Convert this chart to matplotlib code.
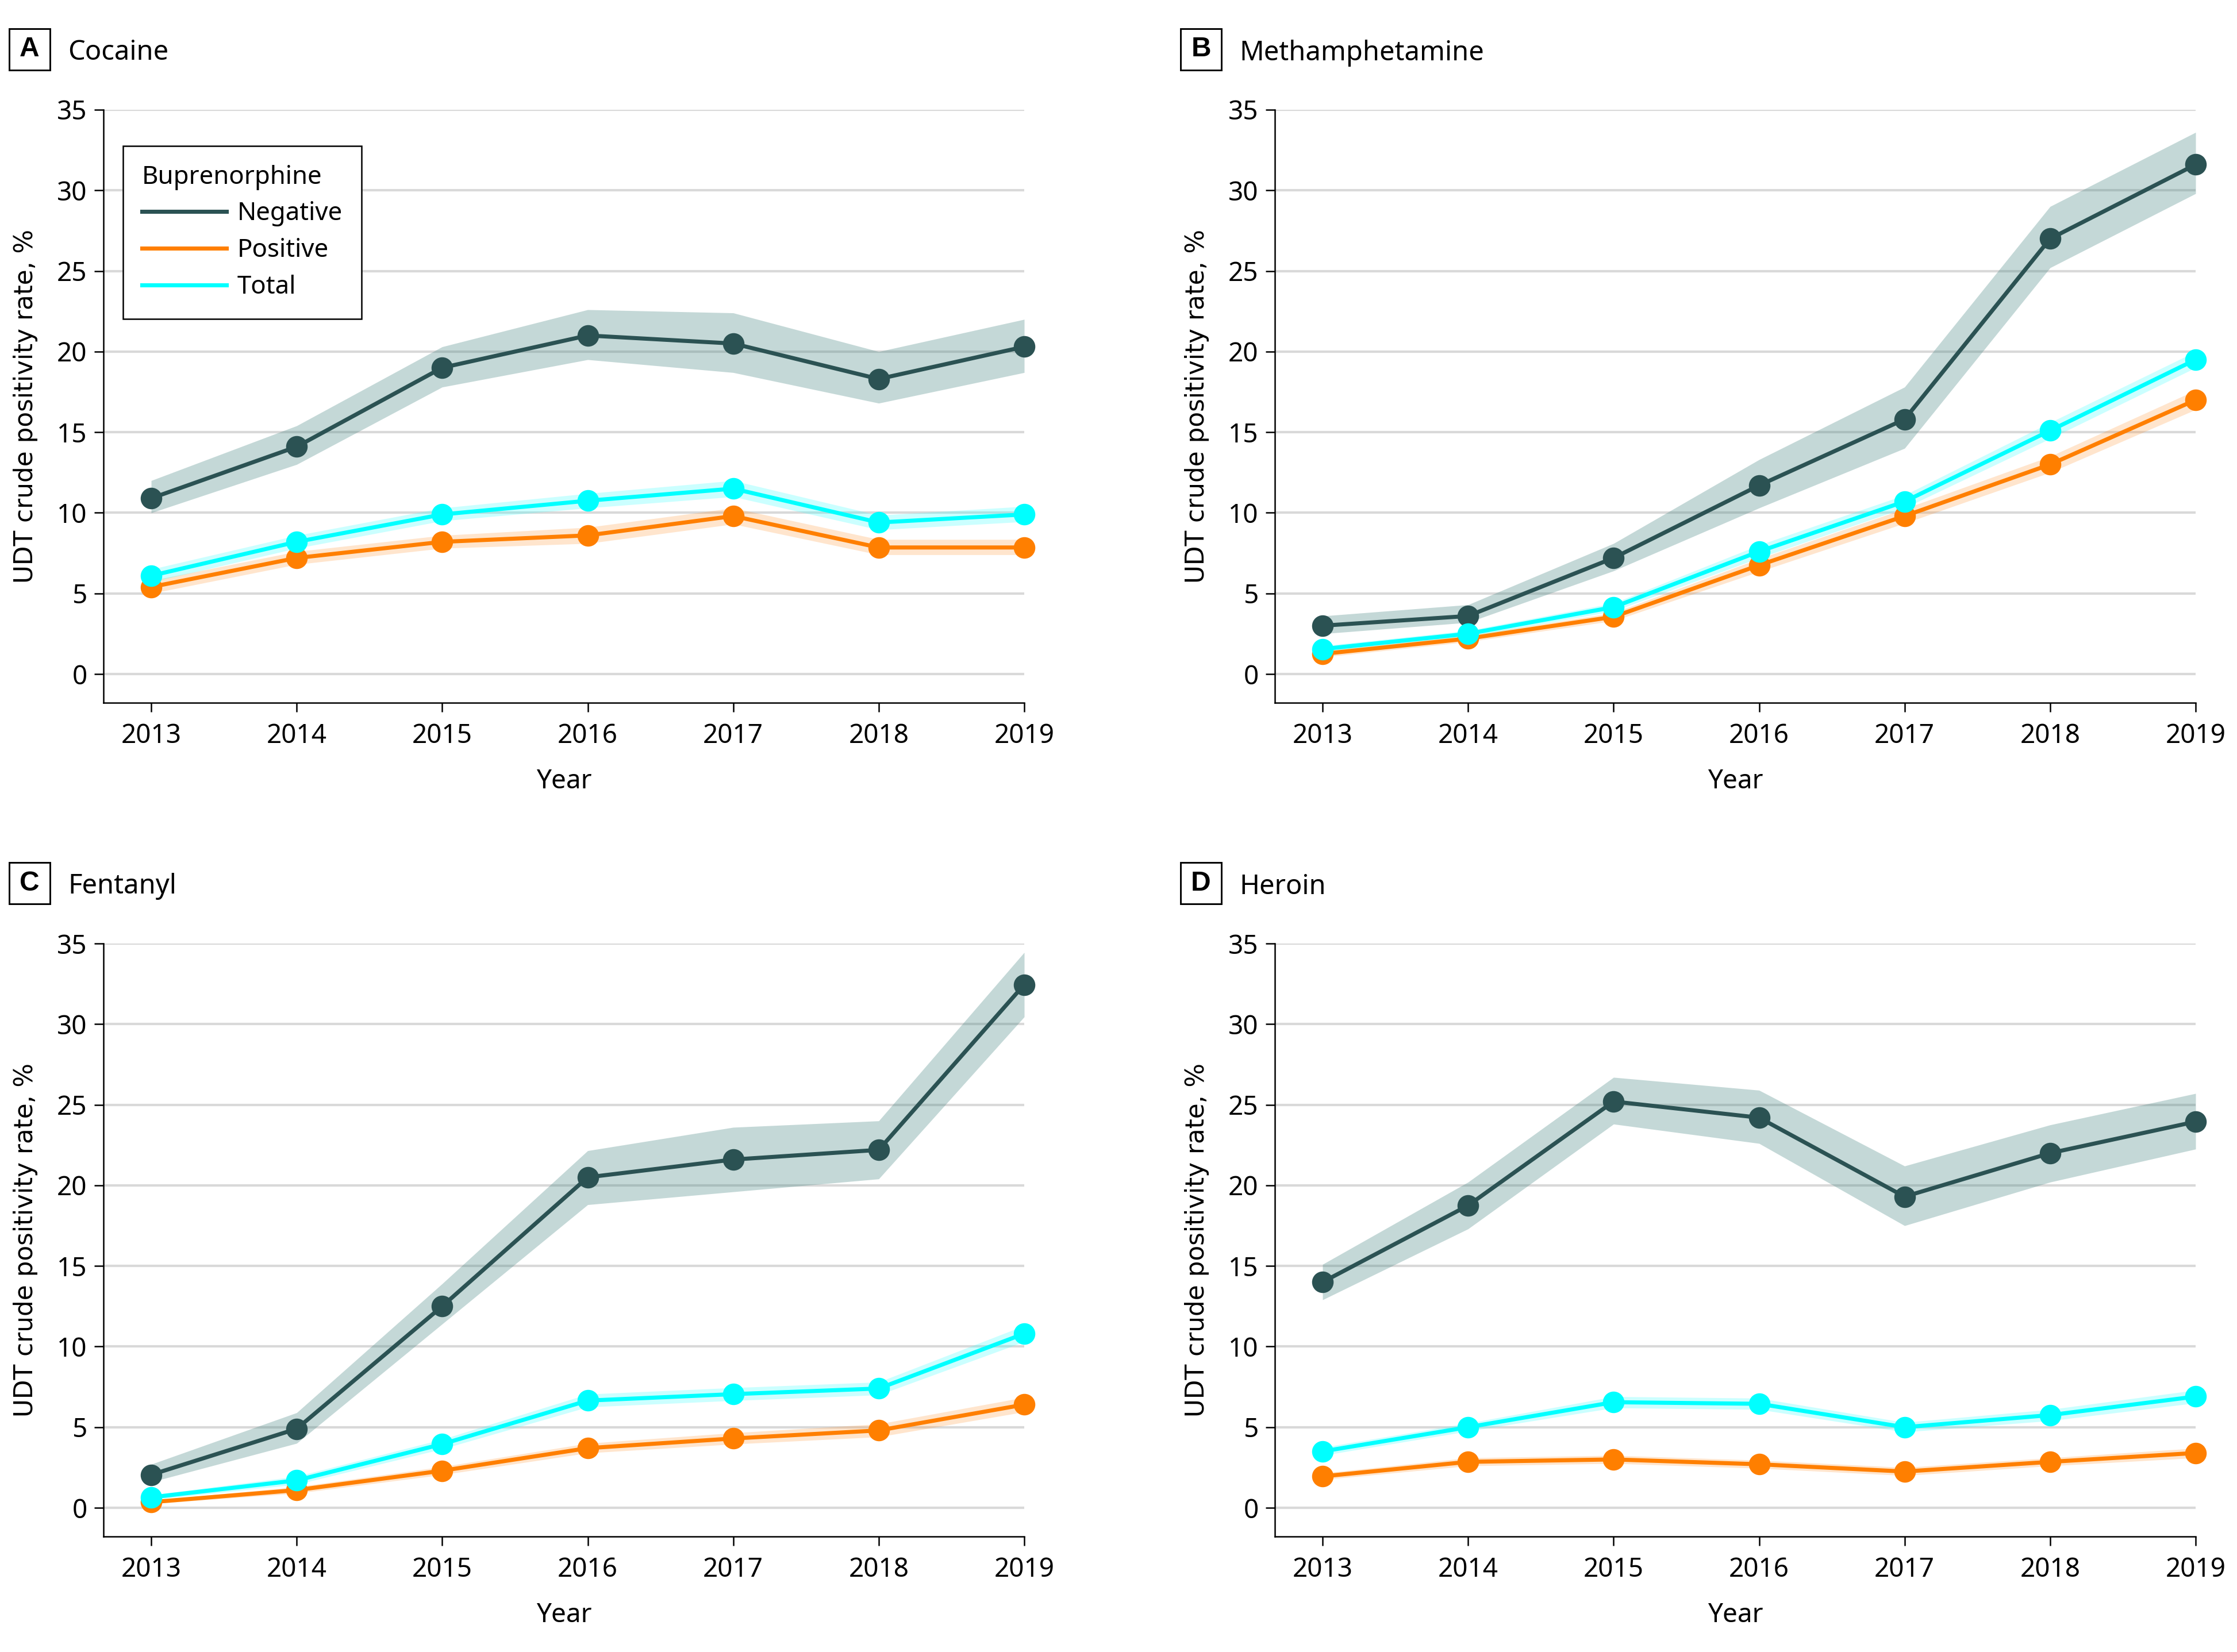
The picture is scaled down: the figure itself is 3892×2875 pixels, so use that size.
import matplotlib
matplotlib.use("Agg")
import matplotlib.pyplot as plt
from matplotlib.patches import Rectangle
from matplotlib.lines import Line2D

plt.rcParams['font.family'] = ['Noto Sans', 'DejaVu Sans']

years = [2013, 2014, 2015, 2016, 2017, 2018, 2019]

# Cocaine
coc_neg    = [10.9, 14.1, 19.0, 21.0, 20.5, 18.3, 20.3]
coc_neg_lo = [10.0, 13.0, 17.8, 19.5, 18.7, 16.8, 18.7]
coc_neg_hi = [12.0, 15.4, 20.3, 22.6, 22.4, 20.0, 22.0]
coc_pos    = [5.4, 7.2, 8.2, 8.6, 9.8, 7.85, 7.85]
coc_pos_lo = [5.0, 6.8, 7.8, 8.1, 9.3, 7.4, 7.4]
coc_pos_hi = [5.8, 7.6, 8.6, 9.1, 10.3, 8.35, 8.35]
coc_tot    = [6.1, 8.2, 9.9, 10.75, 11.5, 9.4, 9.9]
coc_tot_lo = [5.7, 7.8, 9.5, 10.3, 11.0, 8.95, 9.45]
coc_tot_hi = [6.5, 8.6, 10.3, 11.2, 12.0, 9.85, 10.4]

# Methamphetamine
met_neg    = [3.0, 3.6, 7.2, 11.7, 15.8, 27.0, 31.6]
met_neg_lo = [2.5, 3.2, 6.4, 10.3, 14.0, 25.2, 29.8]
met_neg_hi = [3.6, 4.3, 8.1, 13.3, 17.8, 29.0, 33.6]
met_pos    = [1.25, 2.2, 3.55, 6.75, 9.8, 13.0, 17.0]
met_pos_lo = [1.05, 2.0, 3.3, 6.35, 9.35, 12.5, 16.4]
met_pos_hi = [1.45, 2.4, 3.8, 7.15, 10.25, 13.5, 17.6]
met_tot    = [1.55, 2.5, 4.15, 7.6, 10.7, 15.1, 19.5]
met_tot_lo = [1.35, 2.3, 3.9, 7.2, 10.3, 14.6, 19.0]
met_tot_hi = [1.75, 2.7, 4.4, 8.0, 11.1, 15.6, 20.0]

# Fentanyl
fen_neg    = [2.05, 4.9, 12.5, 20.5, 21.6, 22.2, 32.45]
fen_neg_lo = [1.6, 4.0, 11.4, 18.8, 19.6, 20.4, 30.45]
fen_neg_hi = [2.7, 5.9, 13.9, 22.15, 23.6, 24.0, 34.45]
fen_pos    = [0.35, 1.1, 2.3, 3.7, 4.3, 4.8, 6.4]
fen_pos_lo = [0.25, 0.9, 2.05, 3.4, 3.95, 4.4, 5.95]
fen_pos_hi = [0.45, 1.3, 2.55, 4.0, 4.65, 5.2, 6.85]
fen_tot    = [0.65, 1.7, 3.95, 6.65, 7.05, 7.4, 10.8]
fen_tot_lo = [0.5, 1.45, 3.65, 6.25, 6.65, 7.0, 10.3]
fen_tot_hi = [0.8, 1.95, 4.25, 7.05, 7.45, 7.8, 11.3]

# Heroin
her_neg    = [14.0, 18.75, 25.2, 24.2, 19.3, 22.0, 23.95]
her_neg_lo = [12.9, 17.3, 23.8, 22.6, 17.5, 20.2, 22.25]
her_neg_hi = [15.1, 20.2, 26.7, 25.9, 21.2, 23.75, 25.7]
her_pos    = [1.95, 2.85, 3.0, 2.7, 2.25, 2.85, 3.4]
her_pos_lo = [1.75, 2.6, 2.75, 2.45, 2.0, 2.6, 3.1]
her_pos_hi = [2.15, 3.1, 3.25, 2.95, 2.5, 3.1, 3.7]
her_tot    = [3.5, 5.0, 6.55, 6.45, 5.0, 5.75, 6.9]
her_tot_lo = [3.25, 4.75, 6.2, 6.1, 4.7, 5.4, 6.5]
her_tot_hi = [3.75, 5.25, 6.9, 6.8, 5.3, 6.1, 7.3]

letters = ["A", "B", "C", "D"]
titles = ["Cocaine", "Methamphetamine", "Fentanyl", "Heroin"]
series_names = ["Negative", "Positive", "Total"]

panels = [
    [(coc_neg, coc_neg_lo, coc_neg_hi), (coc_pos, coc_pos_lo, coc_pos_hi), (coc_tot, coc_tot_lo, coc_tot_hi)],
    [(met_neg, met_neg_lo, met_neg_hi), (met_pos, met_pos_lo, met_pos_hi), (met_tot, met_tot_lo, met_tot_hi)],
    [(fen_neg, fen_neg_lo, fen_neg_hi), (fen_pos, fen_pos_lo, fen_pos_hi), (fen_tot, fen_tot_lo, fen_tot_hi)],
    [(her_neg, her_neg_lo, her_neg_hi), (her_pos, her_pos_lo, her_pos_hi), (her_tot, her_tot_lo, her_tot_hi)],
]

line_colors = ["#2B5253", "#FF7F00", "#00FFFF"]
band_colors = ["#3E807D", "#FF8A1F", "#33FFFF"]
band_alpha = [0.3, 0.22, 0.25]

W, H = 3892, 2875
fig = plt.figure(figsize=(W / 300, H / 300), dpi=300)

# axes boxes in pixels: left spine x, y of the 35 line
ax_w, ax_h = 1602, 1032
corners = [(180, 191), (2218, 191), (180, 1642), (2218, 1642)]

axes = []
for i, (x, y) in enumerate(corners):
    ax = fig.add_axes([x / W, 1 - (y + ax_h) / H, ax_w / W, ax_h / H])
    axes.append(ax)

    for j, (vals, lo, hi) in enumerate(panels[i]):
        ax.fill_between(years, lo, hi, color=band_colors[j], alpha=band_alpha[j], lw=0, zorder=1)
    for j, (vals, lo, hi) in enumerate(panels[i]):
        ax.plot(years, vals, color=line_colors[j], lw=1.7, marker="o", ms=8,
                clip_on=False, zorder=3 + j)

    ax.set_xlim(2012.672, 2019)
    ax.set_ylim(-1.78, 35)
    ax.set_xticks(years)
    ax.set_yticks(range(0, 36, 5))
    ax.yaxis.grid(True, color="#D9D9D9", lw=1.0)
    ax.set_axisbelow(True)
    for s in ["top", "right"]:
        ax.spines[s].set_visible(False)
    for s in ["left", "bottom"]:
        ax.spines[s].set_linewidth(0.6)
    ax.tick_params(length=3.8, width=0.6, labelsize=11, pad=3)
    ax.tick_params(axis="x", pad=4.7)

    ax.text(-135 / ax_w, 0.5, "UDT crude positivity rate, %", transform=ax.transAxes,
            rotation=90, ha="center", va="center", fontsize=10.5, family="DejaVu Sans")
    ax.text(0.5, -137 / ax_h, "Year", transform=ax.transAxes,
            ha="center", va="center", fontsize=11)

    # panel letter in a box + title
    bx, by = x - 164, y - 141
    fig.add_artist(Rectangle((bx / W, 1 - (by + 72) / H), 71 / W, 72 / H,
                             transform=fig.transFigure, fill=False, ec="black", lw=0.7))
    fig.text((bx + 35.5) / W, 1 - (by + 36) / H, letters[i], ha="center", va="center",
             fontsize=11.5, fontweight="bold",
             family=["Liberation Sans Narrow", "Liberation Sans", "DejaVu Sans"])
    fig.text((x - 62) / W, 1 - (y - 99) / H, titles[i], ha="left", va="center", fontsize=11.3)

handles = [Line2D([], [], color=c, lw=1.7) for c in line_colors]
leg = axes[0].legend(handles, series_names, title="Buprenorphine", loc="upper left",
                     bbox_to_anchor=(34 / ax_w, 1 - 63 / ax_h), borderaxespad=0,
                     frameon=True, fancybox=False, edgecolor="black", framealpha=1,
                     fontsize=10.5, title_fontsize=10.5, handlelength=3.36,
                     handletextpad=0.43, labelspacing=0.45, borderpad=0.75,
                     alignment="left")
leg.get_frame().set_linewidth(0.6)

fig.savefig("out.png", dpi=300)
